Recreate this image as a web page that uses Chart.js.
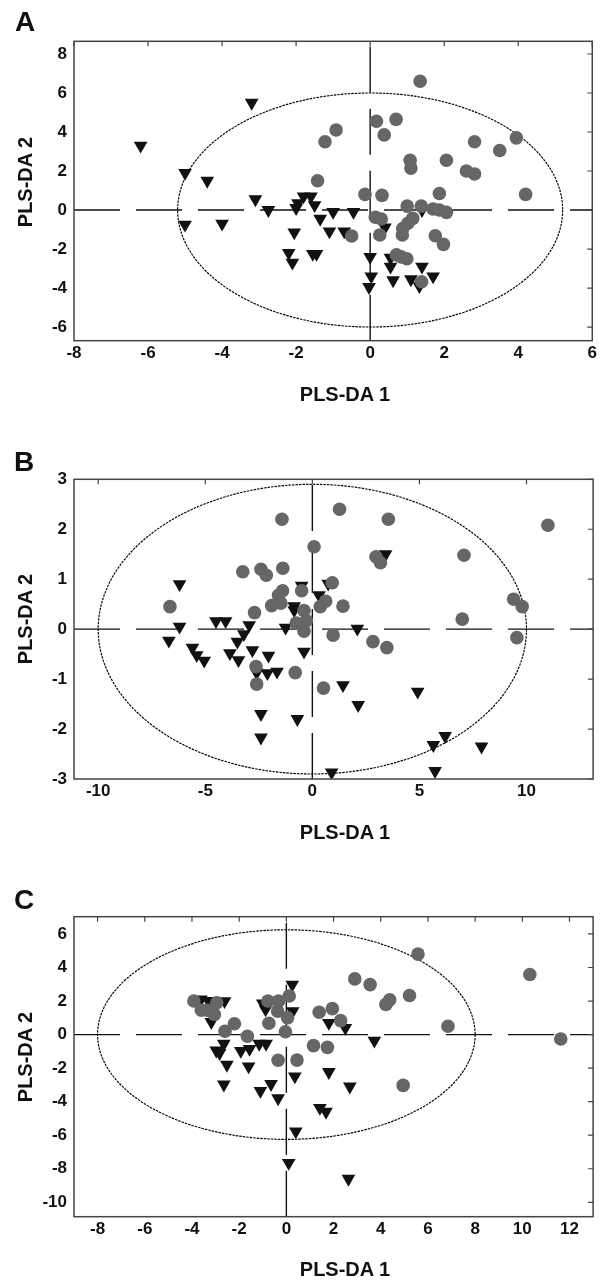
<!DOCTYPE html>
<html><head><meta charset="utf-8">
<script src="https://cdn.jsdelivr.net/npm/chart.js@4.4.1/dist/chart.umd.min.js"></script>
<style>
html,body{margin:0;padding:0;background:#fff;width:601px;height:1284px;overflow:hidden;font-family:"Liberation Sans",Arial,sans-serif;}
.wrap{position:relative;width:601px;height:1284px;}
canvas{position:absolute;left:0;}
.lbl{position:absolute;font-weight:bold;color:#111;white-space:nowrap;line-height:1;}
.panel{font-size:28px;}
.xt{font-size:20px;height:20px;width:200px;text-align:center;}
.yt{font-size:20px;height:20px;width:200px;text-align:center;transform:rotate(-90deg);}
</style></head>
<body><div class="wrap">
<canvas id="cA" width="601" height="420" style="top:0px"></canvas>
<canvas id="cB" width="601" height="440" style="top:420px"></canvas>
<canvas id="cC" width="601" height="424" style="top:860px"></canvas>
<div class="lbl panel" style="left:15px;top:8px">A</div>
<div class="lbl panel" style="left:14px;top:448px">B</div>
<div class="lbl panel" style="left:14px;top:886px">C</div>
<div class="lbl xt" style="left:245px;top:384px">PLS-DA 1</div>
<div class="lbl xt" style="left:245px;top:822px">PLS-DA 1</div>
<div class="lbl xt" style="left:245px;top:1259px">PLS-DA 1</div>
<div class="lbl yt" style="left:-75px;top:172px">PLS-DA 2</div>
<div class="lbl yt" style="left:-75px;top:609px">PLS-DA 2</div>
<div class="lbl yt" style="left:-75px;top:1047px">PLS-DA 2</div>
</div>
<script>
// ---------- Panel A ----------
const A_circles = [[1.35,6.6],[0.17,4.55],[0.7,4.65],[0.38,3.85],[-0.92,4.1],[-1.22,3.5],[2.82,3.5],[3.95,3.7],[3.5,3.05],[1.08,2.55],[1.1,2.15],[2.06,2.55],[2.6,2.0],[2.82,1.85],[-1.42,1.5],[-0.14,0.8],[0.32,0.75],[1.87,0.85],[4.2,0.8],[1.0,0.2],[1.38,0.2],[1.7,0.05],[1.87,0.0],[2.06,-0.12],[0.14,-0.37],[0.3,-0.46],[1.15,-0.43],[1.02,-0.68],[0.88,-0.95],[-0.5,-1.33],[0.26,-1.28],[0.87,-1.28],[1.76,-1.32],[1.98,-1.76],[0.71,-2.3],[0.84,-2.4],[0.99,-2.5],[1.39,-3.68]];
const A_triangles = [[-6.2,3.3],[-3.2,5.5],[-5.0,1.9],[-4.4,1.5],[-3.1,0.55],[-2.75,0.0],[-5.0,-0.75],[-4.0,-0.7],[-2.0,0.1],[-1.8,0.7],[-1.6,0.7],[-1.95,0.35],[-1.5,0.25],[-1.35,-0.45],[-1.0,-0.1],[-0.45,-0.1],[-2.05,-1.15],[-1.1,-1.1],[-0.7,-1.1],[-2.2,-2.2],[-2.1,-2.7],[-1.55,-2.25],[-1.45,-2.25],[0.0,-2.4],[0.03,-3.4],[-0.03,-3.95],[0.4,-0.9],[1.4,0.0],[0.55,-2.45],[0.55,-2.9],[0.62,-3.6],[1.1,-3.55],[1.4,-2.9],[1.33,-3.9],[1.7,-3.4]];
const A_xRange = [-8, 6];
const A_yRange = [-6.7, 8.65];
const A_xTicks = [-8,-6,-4,-2,0,2,4,6];
const A_yTicks = [-6,-4,-2,0,2,4,6,8];
const A_ellipse = [5.2, 6.0];

// ---------- Panel B ----------
const B_circles = [[-6.65,0.45],[-2.7,0.33],[-3.25,1.15],[-2.4,1.2],[-2.15,1.08],[-1.42,2.2],[-1.38,1.22],[-1.39,0.77],[-1.58,0.68],[-1.9,0.47],[-1.47,0.52],[-2.63,-0.75],[-2.6,-1.1],[-0.8,-0.87],[-0.5,0.77],[-0.75,0.12],[0.08,1.65],[1.27,2.4],[3.55,2.2],[2.97,1.45],[3.18,1.33],[7.08,1.48],[11.0,2.08],[0.93,0.93],[0.62,0.56],[0.37,0.45],[1.43,0.46],[-0.39,0.37],[-0.28,0.17],[-0.39,-0.04],[0.97,-0.12],[2.83,-0.25],[3.48,-0.37],[9.4,0.6],[9.8,0.45],[7.0,0.2],[9.55,-0.17],[0.52,-1.18]];
const B_triangles = [[-6.2,0.9],[-6.2,0.05],[-6.7,-0.23],[-5.6,-0.37],[-5.4,-0.52],[-5.05,-0.63],[-4.5,0.16],[-4.05,0.16],[-2.95,0.08],[-3.2,-0.1],[-3.5,-0.25],[-3.85,-0.48],[-3.45,-0.62],[-2.8,-0.42],[-2.05,-0.53],[-2.6,-0.87],[-2.1,-0.88],[-1.65,-0.85],[-2.4,-1.7],[-2.4,-2.17],[-1.25,0.03],[-0.85,0.46],[-0.85,0.38],[-0.5,0.87],[-0.7,-1.8],[0.74,0.91],[0.31,0.68],[-0.39,-0.45],[2.1,0.01],[3.42,1.5],[1.43,-1.12],[2.14,-1.52],[4.92,-1.25],[6.2,-2.14],[5.65,-2.32],[7.9,-2.35],[5.73,-2.84],[0.9,-2.87]];
const B_xRange = [-11.13, 13.11];
const B_yRange = [-3, 3];
const B_xTicks = [-10,-5,0,5,10];
const B_yTicks = [-3,-2,-1,0,1,2,3];
const B_ellipse = [10.0, 2.9];

// ---------- Panel C ----------
const C_circles = [[-3.92,2.0],[-3.6,1.45],[-3.35,1.45],[-2.95,1.9],[-3.05,1.2],[-2.6,0.2],[-2.2,0.65],[-1.65,-0.1],[-0.78,2.0],[-0.33,2.0],[0.12,2.3],[-0.37,1.4],[0.05,1.0],[-0.74,0.68],[-0.04,0.17],[-0.35,-1.53],[0.45,-1.52],[5.58,4.8],[2.9,3.32],[3.55,2.98],[10.32,3.58],[5.22,2.33],[4.38,2.07],[4.22,1.8],[1.39,1.33],[1.95,1.55],[2.3,0.83],[6.85,0.5],[11.63,-0.26],[1.15,-0.66],[1.74,-0.76],[4.95,-3.03]];
const C_triangles = [[0.25,2.98],[-3.62,2.1],[-3.3,2.0],[-2.62,1.99],[-3.18,0.75],[-1.0,1.85],[-0.88,1.5],[0.27,1.4],[-2.65,-0.55],[-2.97,-0.95],[-2.83,-1.1],[-2.52,-1.8],[-1.93,-0.97],[-1.56,-0.85],[-1.15,-0.55],[-0.86,-0.55],[-1.6,-1.9],[-2.65,-2.98],[-1.1,-3.36],[-0.65,-2.95],[-0.35,-3.8],[0.36,-2.49],[0.4,-5.77],[0.1,-7.65],[1.8,0.7],[2.5,0.4],[3.73,-0.36],[1.8,-2.23],[2.69,-3.1],[1.42,-4.37],[1.68,-4.6],[2.63,-8.6]];
const C_xRange = [-9, 13];
const C_yRange = [-10.86, 7.03];
const C_xTicks = [-8,-6,-4,-2,0,2,4,6,8,10,12];
const C_yTicks = [-10,-8,-6,-4,-2,0,2,4,6];
const C_ellipse = [8.0, 6.25];

const FONT = "'Liberation Sans', Arial, sans-serif";

const framePlugin = {
  id: 'frame',
  beforeDatasetsDraw(chart, args, opts) {
    const {ctx, chartArea: ca, scales: {x, y}} = chart;
    ctx.save();
    ctx.beginPath(); ctx.rect(ca.left, ca.top, ca.width, ca.height); ctx.clip();
    const cx = x.getPixelForValue(0), cy = y.getPixelForValue(0);
    const rx = x.getPixelForValue(opts.ellipse[0]) - cx;
    const ry = cy - y.getPixelForValue(opts.ellipse[1]);
    ctx.setLineDash([2.5, 1]); ctx.lineWidth = 1.15; ctx.strokeStyle = '#000';
    ctx.beginPath(); ctx.ellipse(cx, cy, rx, ry, 0, 0, Math.PI * 2); ctx.stroke();
    ctx.setLineDash([46, 16]); ctx.lineWidth = 1.4; ctx.strokeStyle = '#111';
    ctx.beginPath(); ctx.moveTo(ca.left, cy); ctx.lineTo(ca.right, cy); ctx.stroke();
    ctx.beginPath(); ctx.moveTo(cx, ca.bottom); ctx.lineTo(cx, ca.top); ctx.stroke();
    ctx.restore();
  },
  afterDatasetsDraw(chart) {
    const {ctx, chartArea: ca, scales: {x, y}} = chart;
    ctx.save();
    ctx.setLineDash([]);
    ctx.strokeStyle = '#444'; ctx.lineWidth = 1.5;
    ctx.strokeRect(ca.left, ca.top, ca.width, ca.height);
    ctx.lineWidth = 1.2;
    ctx.beginPath();
    x.ticks.forEach(t => { const p = x.getPixelForValue(t.value); ctx.moveTo(p, ca.top); ctx.lineTo(p, ca.top + 5); });
    y.ticks.forEach(t => { const p = y.getPixelForValue(t.value); ctx.moveTo(ca.right, p); ctx.lineTo(ca.right - 5, p); });
    ctx.stroke();
    ctx.restore();
  }
};

function makeChart(id, circles, triangles, xr, yr, xTicks, yTicks, ellipse, padTop, xAxisH) {
  const tickFont = {family: FONT, size: 17, weight: 'bold', lineHeight: 1};
  return new Chart(document.getElementById(id), {
    type: 'scatter',
    data: {datasets: [
      {label: 'Group 1', data: circles.map(([x, y]) => ({x, y})), pointStyle: 'circle', pointRadius: 6.8,
       pointBackgroundColor: '#666666', pointBorderWidth: 0, pointHoverRadius: 6.8},
      {label: 'Group 2', data: triangles.map(([x, y]) => ({x, y})), pointStyle: 'triangle', pointRotation: 180,
       pointRadius: 7.9, pointBackgroundColor: '#111', pointBorderWidth: 0, pointHoverRadius: 7.9}
    ]},
    options: {
      responsive: false, animation: false, devicePixelRatio: 1,
      layout: {padding: {top: padTop, right: 5, left: 0, bottom: 0}},
      plugins: {legend: {display: false}, tooltip: {enabled: false}, frame: {ellipse}},
      scales: {
        x: {type: 'linear', min: xr[0], max: xr[1],
            grid: {display: false, drawTicks: false}, border: {display: false},
            ticks: {font: tickFont, color: '#111', padding: 4, includeBounds: false, maxRotation: 0, autoSkip: false},
            afterBuildTicks: s => { s.ticks = xTicks.map(v => ({value: v})); },
            afterFit: s => { s.height = xAxisH; }},
        y: {type: 'linear', min: yr[0], max: yr[1],
            grid: {display: false, drawTicks: false}, border: {display: false},
            ticks: {font: tickFont, color: '#111', padding: 7, includeBounds: false, autoSkip: false},
            afterBuildTicks: s => { s.ticks = yTicks.map(v => ({value: v})); },
            afterFit: s => { s.width = 74; }}
      }
    },
    plugins: [framePlugin]
  });
}

makeChart('cA', A_circles, A_triangles, A_xRange, A_yRange, A_xTicks, A_yTicks, A_ellipse, 41.3, 420 - 340.7);
makeChart('cB', B_circles, B_triangles, B_xRange, B_yRange, B_xTicks, B_yTicks, B_ellipse, 59.3, 440 - 359);
makeChart('cC', C_circles, C_triangles, C_xRange, C_yRange, C_xTicks, C_yTicks, C_ellipse, 56.7, 424 - 356.7);
</script>
</body></html>
